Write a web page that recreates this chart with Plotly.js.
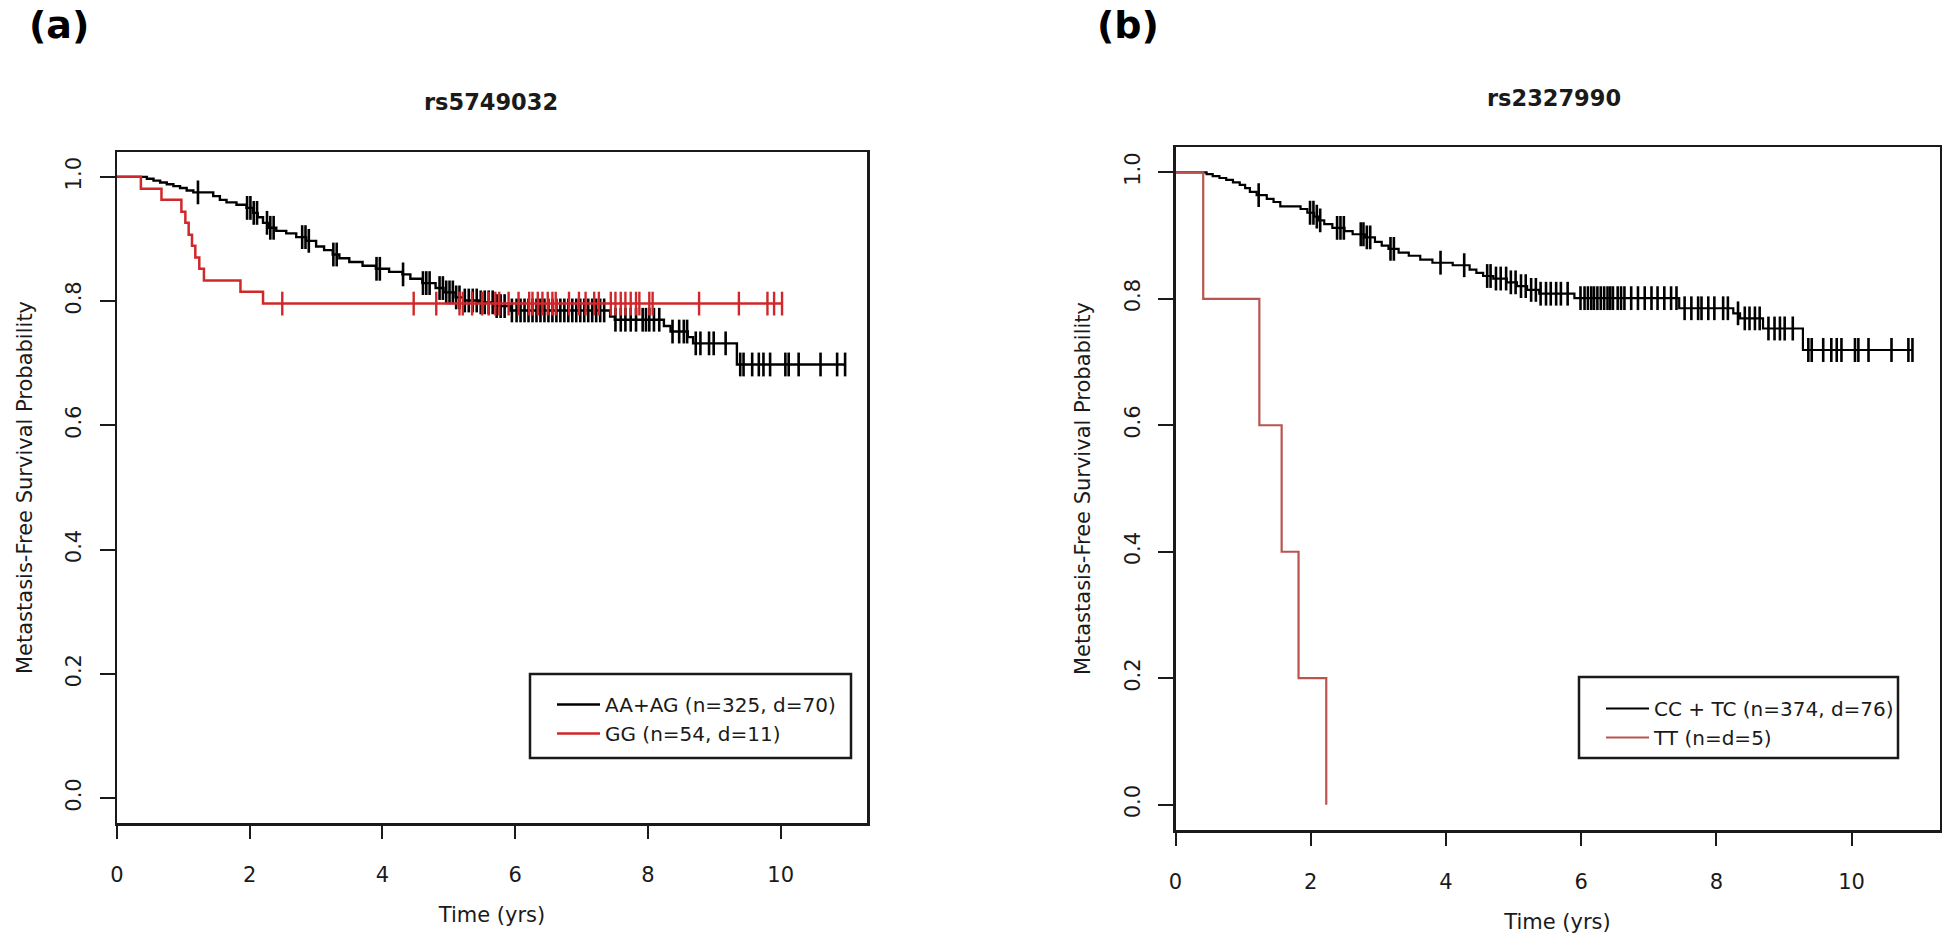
<!DOCTYPE html>
<html>
<head>
<meta charset="utf-8">
<script src="https://cdn.plot.ly/plotly-3.0.1.min.js"></script>
<style>html,body{margin:0;padding:0;background:#fff;}#chart{width:1946px;height:941px;}</style>
</head>
<body>
<div id="chart"></div>
<script>
// ---------- Panel (a): rs5749032 ----------
const panelATitle = "rs5749032";
const aBlackName = "AA+AG (n=325, d=70)";
const aRedName = "GG (n=54, d=11)";
const aBlackTime = [0, 0.45, 0.55, 0.65, 0.75, 0.85, 0.95, 1.05, 1.15, 1.45, 1.55, 1.65, 1.80, 1.95, 2.05, 2.12, 2.20, 2.28, 2.40, 2.55, 2.70, 2.85, 3.00, 3.12, 3.25, 3.35, 3.50, 3.70, 3.90, 4.10, 4.30, 4.42, 4.60, 4.80, 4.92, 5.10, 5.22, 5.45, 5.70, 5.92, 7.43, 7.50, 8.24, 8.34, 8.60, 8.68, 9.34, 10.97];
const aBlackSurv = [1.000, 0.997, 0.994, 0.991, 0.988, 0.985, 0.982, 0.978, 0.975, 0.969, 0.963, 0.959, 0.955, 0.950, 0.942, 0.935, 0.926, 0.918, 0.913, 0.909, 0.903, 0.897, 0.888, 0.882, 0.875, 0.869, 0.863, 0.857, 0.852, 0.847, 0.843, 0.836, 0.829, 0.821, 0.814, 0.806, 0.801, 0.798, 0.792, 0.785, 0.775, 0.770, 0.760, 0.751, 0.742, 0.732, 0.698, 0.698];
const aBlackCensor = [1.22, 1.96, 2.01, 2.06, 2.11, 2.26, 2.31, 2.36, 2.79, 2.84, 2.89, 3.26, 3.31, 3.91, 3.96, 4.31, 4.61, 4.66, 4.71, 4.86, 4.91, 4.96, 5.01, 5.06, 5.11, 5.16, 5.24, 5.30, 5.36, 5.42, 5.48, 5.54, 5.60, 5.66, 5.72, 5.78, 5.84, 5.95, 6.02, 6.08, 6.14, 6.20, 6.26, 6.32, 6.38, 6.44, 6.50, 6.56, 6.62, 6.68, 6.74, 6.80, 6.86, 6.92, 6.98, 7.04, 7.10, 7.16, 7.22, 7.28, 7.34, 7.51, 7.59, 7.66, 7.74, 7.82, 7.92, 7.97, 8.02, 8.09, 8.17, 8.37, 8.47, 8.54, 8.59, 8.72, 8.79, 8.92, 8.99, 9.17, 9.39, 9.44, 9.57, 9.67, 9.74, 9.84, 10.07, 10.12, 10.27, 10.60, 10.85, 10.97];
const aRedTime = [0, 0.36, 0.67, 0.97, 1.03, 1.08, 1.13, 1.18, 1.24, 1.31, 1.86, 2.20, 10.02];
const aRedSurv = [1.000, 0.981, 0.963, 0.944, 0.926, 0.907, 0.889, 0.870, 0.852, 0.833, 0.815, 0.796, 0.796];
const aRedCensor = [2.49, 4.47, 4.81, 5.16, 5.21, 5.35, 5.50, 5.60, 5.70, 5.76, 5.90, 6.05, 6.21, 6.26, 6.34, 6.41, 6.49, 6.56, 6.61, 6.81, 6.96, 7.06, 7.19, 7.26, 7.44, 7.51, 7.59, 7.66, 7.74, 7.82, 7.87, 8.02, 8.07, 8.77, 9.37, 9.80, 9.90, 10.02];

// ---------- Panel (b): rs2327990 ----------
const panelBTitle = "rs2327990";
const bBlackName = "CC + TC (n=374, d=76)";
const bRedName = "TT (n=d=5)";
const bBlackTime = [0, 0.46, 0.55, 0.65, 0.75, 0.85, 0.95, 1.03, 1.10, 1.20, 1.35, 1.45, 1.55, 1.85, 1.95, 2.05, 2.12, 2.20, 2.32, 2.50, 2.62, 2.80, 2.95, 3.05, 3.15, 3.30, 3.45, 3.62, 3.80, 4.10, 4.35, 4.45, 4.55, 4.70, 4.90, 5.05, 5.20, 5.38, 5.90, 7.45, 8.25, 8.35, 8.69, 9.28, 10.90];
const bBlackSurv = [1.000, 0.997, 0.994, 0.991, 0.988, 0.984, 0.980, 0.975, 0.969, 0.964, 0.958, 0.953, 0.946, 0.942, 0.936, 0.930, 0.924, 0.918, 0.912, 0.907, 0.902, 0.897, 0.890, 0.884, 0.879, 0.873, 0.868, 0.862, 0.857, 0.853, 0.846, 0.841, 0.836, 0.832, 0.826, 0.820, 0.814, 0.808, 0.801, 0.785, 0.777, 0.769, 0.753, 0.719, 0.719];
const bBlackCensor = [1.23, 1.99, 2.04, 2.09, 2.14, 2.39, 2.44, 2.49, 2.74, 2.78, 2.83, 2.88, 3.18, 3.23, 3.92, 4.27, 4.61, 4.66, 4.74, 4.81, 4.89, 4.96, 5.03, 5.11, 5.18, 5.26, 5.33, 5.40, 5.48, 5.55, 5.63, 5.70, 5.80, 5.99, 6.05, 6.10, 6.15, 6.19, 6.24, 6.29, 6.34, 6.39, 6.43, 6.47, 6.54, 6.59, 6.64, 6.74, 6.84, 6.94, 7.04, 7.13, 7.23, 7.33, 7.41, 7.53, 7.63, 7.73, 7.78, 7.88, 7.97, 8.10, 8.17, 8.32, 8.42, 8.49, 8.57, 8.64, 8.77, 8.86, 8.94, 9.01, 9.13, 9.36, 9.41, 9.58, 9.70, 9.78, 9.85, 10.05, 10.10, 10.25, 10.59, 10.84, 10.90];
const bRedTime = [0, 0.41, 1.24, 1.57, 1.82, 2.23];
const bRedSurv = [1.0, 0.8, 0.6, 0.4, 0.2, 0.0];

// ---------- Axis / text ----------
const xTickVals = [0, 2, 4, 6, 8, 10];
const xTickText = ["0", "2", "4", "6", "8", "10"];
const yTickVals = [0, 0.2, 0.4, 0.6, 0.8, 1.0];
const yTickText = ["0.0", "0.2", "0.4", "0.6", "0.8", "1.0"];
const xTitle = "Time (yrs)";
const yTitle = "Metastasis-Free Survival Probability";
const panelLabels = ["(a)", "(b)"];

// step-function lookup: survival at time t
function survAt(times, surv, t) {
  let v = surv[0];
  for (let i = 0; i < times.length; i++) { if (times[i] <= t + 1e-9) v = surv[i]; else break; }
  return v;
}

const W = 1946, H = 941;
const FONT = "DejaVu Sans";
const INK = "#1a1a1a";
const RED_A = "#d0282a";
const RED_B = "#b9544f";

function kmTraces(times, surv, censor, color, name, xa, ya, legendId, lw, mw) {
  const line = {
    type: "scatter", mode: "lines", x: times, y: surv, name: name,
    line: {shape: "hv", color: color, width: lw}, xaxis: xa, yaxis: ya,
    legend: legendId, hoverinfo: "skip"
  };
  const out = [line];
  if (censor && censor.length) {
    out.push({
      type: "scatter", mode: "markers", x: censor,
      y: censor.map(t => survAt(times, surv, t)),
      marker: {symbol: "line-ns", size: 17, color: color, line: {color: color, width: mw}},
      xaxis: xa, yaxis: ya, showlegend: false, hoverinfo: "skip"
    });
  }
  return out;
}

const data = [].concat(
  kmTraces(aBlackTime, aBlackSurv, aBlackCensor, "#000000", aBlackName, "x", "y", "legend", 2.4, 2.6),
  kmTraces(aRedTime, aRedSurv, aRedCensor, RED_A, aRedName, "x", "y", "legend", 2.5, 2.4),
  kmTraces(bBlackTime, bBlackSurv, bBlackCensor, "#000000", bBlackName, "x2", "y2", "legend2", 2.2, 2.6),
  kmTraces(bRedTime, bRedSurv, [], RED_B, bRedName, "x2", "y2", "legend2", 2.2, 2)
);

function xAxis(domain, anchor) {
  return {
    domain: domain, anchor: anchor, range: [0, 11.3], autorange: false,
    tickvals: xTickVals, ticktext: xTickText, ticks: "outside", ticklen: 13, tickwidth: 2, tickcolor: INK,
    ticklabelstandoff: 18,
    showline: true, mirror: true, linecolor: INK, linewidth: 2.5,
    showgrid: false, zeroline: false, automargin: false,
    tickfont: {family: FONT, size: 21, color: INK},
    title: {text: xTitle, font: {family: FONT, size: 21, color: INK}, standoff: 22}
  };
}
function yAxis(domain, anchor) {
  return {
    domain: domain, anchor: anchor, range: [-0.04, 1.04], autorange: false,
    tickvals: yTickVals, ticktext: yTickText, ticks: "outside", ticklen: 15, tickwidth: 2, tickcolor: INK,
    tickangle: -90, ticklabelstandoff: 10,
    showline: true, mirror: true, linecolor: INK, linewidth: 2.5,
    showgrid: false, zeroline: false, automargin: false,
    tickfont: {family: FONT, size: 21, color: INK},
    title: {text: yTitle, font: {family: FONT, size: 21, color: INK}, standoff: 24}
  };
}

const px = v => v / W;
const py = v => 1 - v / H;

const layout = {
  width: W, height: H,
  margin: {l: 0, r: 0, t: 0, b: 0, pad: 0},
  paper_bgcolor: "#ffffff", plot_bgcolor: "#ffffff",
  font: {family: FONT, color: INK},
  showlegend: true,
  xaxis: xAxis([px(117), px(867)], "y"),
  yaxis: yAxis([py(823), py(152)], "x"),
  xaxis2: xAxis([px(1175.5), px(1939.5)], "y2"),
  yaxis2: yAxis([py(830), py(147)], "x2"),
  legend: {
    x: px(552), y: py(685), xanchor: "left", yanchor: "top",
    bgcolor: "rgba(0,0,0,0)", borderwidth: 0, itemwidth: 43,
    font: {family: FONT, size: 20, color: INK}, tracegroupgap: 0
  },
  legend2: {
    x: px(1601), y: py(689), xanchor: "left", yanchor: "top",
    bgcolor: "rgba(0,0,0,0)", borderwidth: 0, itemwidth: 43,
    font: {family: FONT, size: 20, color: INK}, tracegroupgap: 0
  },
  shapes: [
    {type: "rect", xref: "paper", yref: "paper", x0: px(530), x1: px(851), y0: py(758), y1: py(674),
     line: {color: INK, width: 2.5}, fillcolor: "#ffffff", layer: "above"},
    {type: "rect", xref: "paper", yref: "paper", x0: px(1579), x1: px(1898), y0: py(758), y1: py(677),
     line: {color: INK, width: 2.5}, fillcolor: "#ffffff", layer: "above"}
  ],
  annotations: [
    {text: "<b>" + panelLabels[0] + "</b>", xref: "paper", yref: "paper", x: px(59), y: py(25),
     xanchor: "center", yanchor: "middle", showarrow: false, font: {family: FONT, size: 38, color: "#000"}},
    {text: "<b>" + panelLabels[1] + "</b>", xref: "paper", yref: "paper", x: px(1128), y: py(25),
     xanchor: "center", yanchor: "middle", showarrow: false, font: {family: FONT, size: 38, color: "#000"}},
    {text: "<b>" + panelATitle + "</b>", xref: "paper", yref: "paper", x: px(491), y: py(102),
     xanchor: "center", yanchor: "middle", showarrow: false, font: {family: FONT, size: 22.5, color: INK}},
    {text: "<b>" + panelBTitle + "</b>", xref: "paper", yref: "paper", x: px(1554), y: py(98),
     xanchor: "center", yanchor: "middle", showarrow: false, font: {family: FONT, size: 22.5, color: INK}}
  ]
};

Plotly.newPlot("chart", data, layout, {staticPlot: true, displayModeBar: false});
</script>
</body>
</html>
